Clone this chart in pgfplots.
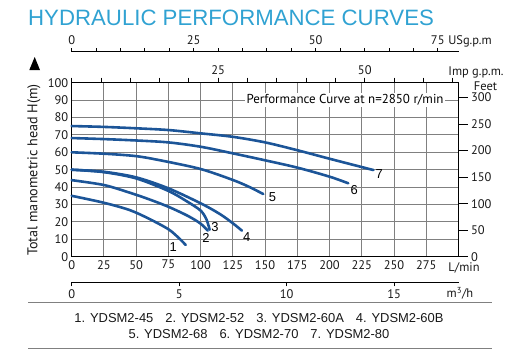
\documentclass[border=0pt]{standalone}
\usepackage{pgfplots}
\pgfplotsset{compat=1.18}
\usepackage{fontspec}
\setmainfont{PT Sans}
\newfontfamily\lib{Liberation Sans}
\definecolor{curve}{RGB}{28,85,152}
\definecolor{ttl}{RGB}{48,162,210}
\definecolor{grd}{RGB}{128,128,128}
\pgfplotsset{
 base/.style={scale only axis, width=386.8bp,
   /pgf/number format/assume math mode=true,
   tick label style={font=\fontsize{12.5}{12.5}\selectfont, text=black!90},
   axis line style={line width=0.9bp},
   tick style={black, line width=0.9bp}},
 crv/.style={color=curve, line width=2.6bp, smooth, no markers, line cap=round}
}
\begin{document}
\begin{tikzpicture}[x=1bp,y=1bp]
\path[use as bounding box] (0,0) rectangle (513,-349);
% main axis
\begin{axis}[base, at={(71.7bp,-256.7bp)}, anchor=south west, height=174bp,
  xmin=0, xmax=300, ymin=0, ymax=100,
  xtick={0,25,...,275}, ytick={0,10,...,100},
  grid=major, grid style={grd, line width=0.9bp},
  major tick length=0pt, clip=false]
\node[fill=white, inner sep=1.5bp, font=\fontsize{13}{13}\selectfont] at (axis cs:212,90) {Performance Curve at n=2850 r/min};
% 1
\addplot[crv] coordinates {(0,35) (25,31) (45,26.8) (60,21.8) (75,15.8) (83,10.8) (88.5,6.7)};
% 2
\addplot[crv] coordinates {(0,44) (25,41.2) (45,36.8) (60,33) (75,28.7) (90,23.5) (100,19) (105.5,15)};
% 3
\addplot[crv] coordinates {(0,50) (25,48.6) (50,45) (75,37.8) (90,31.5) (100,26.5) (104.5,21.5) (107,15.5)};
% 4
\addplot[crv] coordinates {(0,50) (25,48.8) (50,45.6) (75,39.3) (100,30.7) (115,24.5) (125,19.2) (132,15)};
% 5
\addplot[crv] coordinates {(0,60) (25,59.2) (50,57.8) (70,55.2) (100,50.4) (125,44.1) (138,40) (148.6,36)};
% 6
\addplot[crv] coordinates {(0,68.2) (25,67.6) (50,66.8) (75,65.7) (100,63.2) (125,59.4) (150,55.4) (175,51.2) (200,46) (214.5,42.2)};
% 7
\addplot[crv] coordinates {(0,75.1) (25,74.6) (50,73.8) (75,72.8) (100,70.9) (125,68.9) (150,65.7) (175,61.2) (200,56.3) (234,49.8)};
\begin{scope}[font=\lib\fontsize{13}{13}\selectfont]
\node at (axis cs:78.8,5.4) {1};
\node at (axis cs:104.2,10.6) {2};
\node at (axis cs:111.1,17.2) {3};
\node at (axis cs:135.7,11.5) {4};
\node at (axis cs:155.7,34.3) {5};
\node at (axis cs:219.2,38.3) {6};
\node at (axis cs:238.6,47.4) {7};
\end{scope}
\end{axis}
% feet axis
\begin{axis}[base, at={(71.7bp,-256.7bp)}, anchor=south west, height=174bp,
  xmin=0, xmax=300, ymin=0, ymax=328.084,
  axis x line=none, axis y line*=right, ytick={0,50,...,300},
  tick align=outside, major tick length=9bp]
\end{axis}
% imp gpm
\begin{axis}[base, at={(71.7bp,-256.7bp)}, anchor=south west, height=174bp,
  xmin=0, xmax=65.99, ymin=0, ymax=1,
  axis y line=none, axis x line*=top, xtick={25,50}, minor xtick={0,5,...,65},
  tick align=outside, major tick length=5bp, minor tick length=5bp]
\end{axis}
% us gpm
\begin{axis}[base, at={(71.7bp,-51.7bp)}, anchor=north west, height=10bp,
  xmin=0, xmax=79.25, ymin=0, ymax=1,
  axis y line=none, axis x line*=top, xtick={0,25,50,75}, minor xtick={0,5,...,75},
  tick align=outside, major tick length=3.5bp, minor tick length=3.5bp]
\end{axis}
% m3/h
\begin{axis}[base, at={(71.7bp,-282.3bp)}, anchor=south west, height=10bp,
  xmin=0, xmax=18, ymin=0, ymax=1,
  axis y line=none, axis x line*=bottom, xtick={0,5,10,15},
  tick align=outside, major tick length=4bp]
\end{axis}
% texts
\node[anchor=base west, font=\lib\fontsize{22.3}{22.3}\selectfont, text=ttl, inner sep=0] at (28,-25) {HYDRAULIC PERFORMANCE CURVES};
\begin{scope}[font=\fontsize{12.5}{12.5}\selectfont, text=black!90]
\node at (470,-41.7) {USg.p.m};
\node at (476,-72.3) {Imp g.p.m.};
\node at (485.5,-86.7) {Feet};
\node at (464,-268) {L/min};
\node at (460,-293) {m\textsuperscript{3}/h};
\end{scope}
\node[rotate=90, font=\fontsize{14.2}{14.2}\selectfont, text=black!90] at (34,-170) {Total manometric head H(m)};
\fill (34.7,-57) -- (40,-70) -- (29.3,-70) -- cycle;
\draw[grd, line width=1bp] (28,-302.3) -- (492,-302.3);
\draw[grd, line width=1bp] (28,-348.3) -- (492,-348.3);
\node[font=\lib\fontsize{13}{13}\selectfont, text=black!90] at (259,-317.7) {1. YDSM2-45\hspace{12bp}2. YDSM2-52\hspace{12bp}3. YDSM2-60A\hspace{12bp}4. YDSM2-60B};
\node[font=\lib\fontsize{13}{13}\selectfont, text=black!90] at (259,-334.3) {5. YDSM2-68\hspace{12bp}6. YDSM2-70\hspace{12bp}7. YDSM2-80};
\end{tikzpicture}
\end{document}
